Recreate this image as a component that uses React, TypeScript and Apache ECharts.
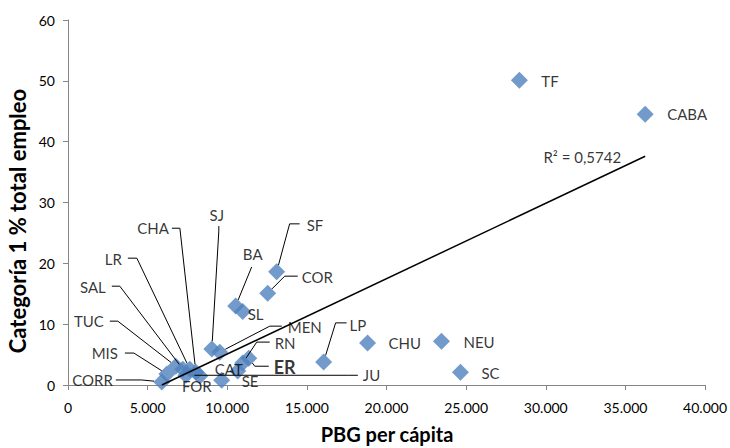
import React, { useEffect, useRef } from "react";
import * as echarts from "echarts";

// ---- data ----
const provinces = ["CABA", "TF", "NEU", "SC", "CHU", "LP", "SF", "COR", "BA", "SL", "SJ", "MEN", "RN", "ER", "CAT", "SE", "FOR", "CHA", "LR", "SAL", "TUC", "MIS", "JU", "CORR"];
const pbgPerCapita = [36240, 28340, 23450, 24640, 18810, 16050, 13100, 12540, 10530, 10970, 9030, 9530, 10970, 11350, 10660, 9650, 8280, 8030, 7650, 7210, 6770, 6210, 7400, 5890];
const categoria1 = [44.5, 50.1, 7.2, 2.1, 6.9, 3.8, 18.6, 15.1, 13.0, 12.1, 5.9, 5.4, 3.6, 4.4, 2.3, 0.8, 1.5, 2.1, 2.6, 2.6, 3.1, 1.8, 1.6, 0.5];
const trendX = [5890, 36240];
const trendY = [0.0, 37.6];
const r2Text = "R² = 0,5742";
const xTicks = { min: 0, max: 40000, interval: 5000 };
const yTicks = { min: 0, max: 60, interval: 10 };

// ---- label placement (pixel offsets from the marker centre) ----
type Place = { dx: number; dy: number; align: "left" | "right" | "center"; leader: number[][] | null };
const placement: Record<string, Place> = {
  CABA: { dx: 22, dy: 0, align: "left", leader: null },
  TF: { dx: 22, dy: 1, align: "left", leader: null },
  NEU: { dx: 22, dy: 1, align: "left", leader: null },
  SC: { dx: 21, dy: 1, align: "left", leader: null },
  CHU: { dx: 21, dy: 0, align: "left", leader: null },
  LP: { dx: 26, dy: -37, align: "left", leader: [[12, -39], [23, -39]] },
  SF: { dx: 30, dy: -47, align: "left", leader: [[13, -48], [23, -48]] },
  COR: { dx: 34, dy: -16, align: "left", leader: [[17, -17], [30, -17]] },
  BA: { dx: 17, dy: -52, align: "center", leader: [[16, -39]] },
  SL: { dx: 5, dy: 3, align: "left", leader: null },
  SJ: { dx: 5, dy: -134, align: "center", leader: [[7, -118], [7, -123]] },
  MEN: { dx: 68, dy: -25, align: "left", leader: [[50, -26], [62, -26]] },
  RN: { dx: 32, dy: -20, align: "left", leader: [[14, -21], [27, -21]] },
  ER: { dx: 25, dy: 9, align: "left", leader: [[6, 8], [20, 8]] },
  CAT: { dx: -9, dy: -2, align: "center", leader: null },
  SE: { dx: 20, dy: 1, align: "left", leader: null },
  FOR: { dx: -3, dy: 10, align: "center", leader: null },
  CHA: { dx: -27, dy: -144, align: "right", leader: [[-16, -144], [-24, -144]] },
  LR: { dx: -68, dy: -110, align: "right", leader: [[-53, -111], [-62, -111]] },
  SAL: { dx: -77, dy: -82, align: "right", leader: [[-63, -83], [-71, -83]] },
  TUC: { dx: -72, dy: -45, align: "right", leader: [[-58, -45], [-66, -45]] },
  MIS: { dx: -49, dy: -21, align: "right", leader: [[-33, -21], [-42, -21]] },
  JU: { dx: 177, dy: 0, align: "left", leader: [[162, 0], [172, 0]] },
  CORR: { dx: -49, dy: -2, align: "right", leader: [[-20, -2], [-46, -2]] },
};

const FONT = "Lato";
const MARKER = 17;

export default function App() {
  const ref = useRef<HTMLDivElement>(null);
  useEffect(() => {
    if (!ref.current) return;
    const chart = echarts.init(ref.current, null, { renderer: "svg" });
    const fmt = (v: number) => String(v).replace(/\B(?=(\d{3})+(?!\d))/g, ".");
    const points = provinces.map((name, i) => {
      const item: any = { name, value: [pbgPerCapita[i], categoria1[i]] };
      if (name === "ER") item.label = { fontWeight: "bold", fontSize: 18 };
      return item;
    });
    chart.setOption({
      animation: false,
      textStyle: { fontFamily: FONT },
      grid: { left: 68, right: 24, top: 20, bottom: 63, containLabel: false },
      xAxis: {
        type: "value",
        ...xTicks,
        splitLine: { show: false },
        axisLine: { show: true, lineStyle: { color: "#868686", width: 1 } },
        axisTick: { show: true, length: 5, lineStyle: { color: "#868686" } },
        axisLabel: { formatter: fmt, color: "#000", fontSize: 14, fontFamily: FONT, margin: 15 },
      },
      yAxis: {
        type: "value",
        ...yTicks,
        splitLine: { show: false },
        axisLine: { show: true, lineStyle: { color: "#868686", width: 1 } },
        axisTick: { show: true, length: 5, lineStyle: { color: "#868686" } },
        axisLabel: { color: "#000", fontSize: 14, fontFamily: FONT, margin: 13 },
      },
      graphic: [
        {
          type: "text",
          x: 17,
          y: 221,
          rotation: Math.PI / 2,
          style: { text: "Categoría 1 % total empleo", font: `bold 22px ${FONT}`, fill: "#000", align: "center", verticalAlign: "middle" },
        },
        {
          type: "text",
          x: 387,
          y: 434,
          style: { text: "PBG per cápita", font: `bold 20px ${FONT}`, fill: "#000", align: "center", verticalAlign: "middle" },
        },
      ],
      series: [
        {
          type: "scatter",
          name: "provincias",
          symbol: "diamond",
          symbolSize: MARKER,
          z: 2,
          itemStyle: { color: "#4F81BD" },
          data: points,
          label: { show: true, formatter: "{b}", color: "#000", fontSize: 15, fontFamily: FONT },
          labelLayout: (p: any) => {
            const pl = placement[provinces[p.dataIndex]];
            const cx = p.rect.x + p.rect.width / 2;
            const cy = p.rect.y + p.rect.height / 2;
            return { x: cx + pl.dx, y: cy + pl.dy, align: pl.align, verticalAlign: "middle" };
          },
        },
        {
          type: "line",
          name: "tendencia",
          data: trendX.map((x, i) => [x, trendY[i]]),
          symbol: "none",
          z: 4,
          lineStyle: { color: "#000", width: 1.5 },
        },
        {
          type: "scatter",
          name: "r2",
          data: [[trendX[1], trendY[1]]],
          symbolSize: 2,
          itemStyle: { color: "rgba(0,0,0,0)" },
          z: 4,
          label: { show: true, position: "left", distance: 23, formatter: r2Text, color: "#000", fontSize: 15, fontFamily: FONT, offset: [0, 1] },
        },
        {
          type: "custom",
          name: "guias",
          clip: false,
          z: 5,
          data: provinces.map((_, i) => [pbgPerCapita[i], categoria1[i]]),
          renderItem: (params: any, api: any) => {
            const pl = placement[provinces[params.dataIndex]];
            if (!pl.leader) return null;
            const c = api.coord([api.value(0), api.value(1)]);
            const first = pl.leader[0];
            const ux = first[0], uy = first[1];
            const t = (MARKER / 2) / (Math.abs(ux) + Math.abs(uy));
            const pts = [[c[0] + ux * t, c[1] + uy * t], ...pl.leader.map((o) => [c[0] + o[0], c[1] + o[1]])];
            return { type: "polyline", shape: { points: pts }, style: { stroke: "#000", lineWidth: 1, fill: null } };
          },
        },
      ],
    });
    return () => chart.dispose();
  }, []);
  return <div ref={ref} style={{ position: "absolute", left: 0, top: 0, width: 730, height: 448 }} />;
}
